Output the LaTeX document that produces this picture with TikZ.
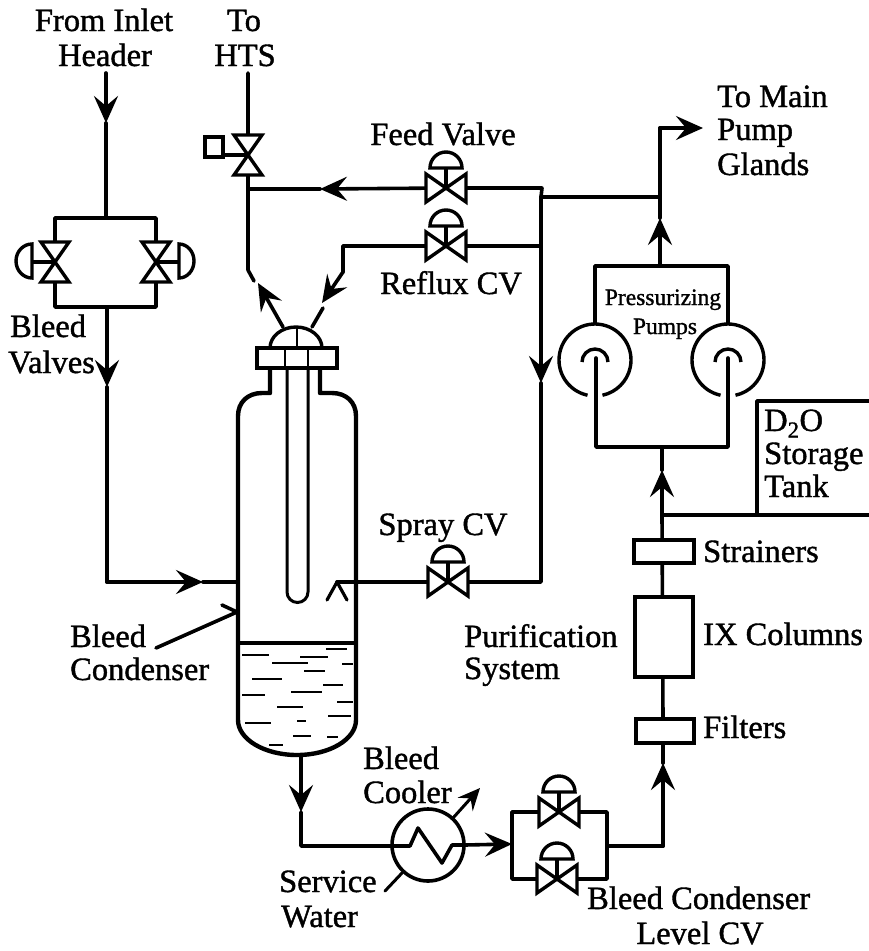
\documentclass[tikz,border=0pt]{standalone}
\usepackage{fontspec}
\setmainfont{Liberation Serif}[FakeBold=1.2]
\usetikzlibrary{arrows.meta, calc}

\tikzset{
  pipe/.style={line width=3.6pt, line join=round, line cap=round},
  flowtip/.style={-{Stealth[length=27pt, width=24pt, inset=10pt]}},
  smalltip/.style={-{Stealth[length=22pt, width=20pt, inset=8pt]}},
  thinline/.style={line width=2.6pt},
  lbl/.style={font=\fontsize{32.5}{36}\selectfont, inner sep=0pt},
  smalllbl/.style={font=\fontsize{23.5}{28}\selectfont, inner sep=0pt},
  unitbox/.style={line width=4pt, fill=white},
  pics/hvalve/.style={code={
    \draw[thinline, line width=3.4pt, fill=white] (-20,-14) -- (20,14) -- (20,-14) -- (-20,14) -- cycle;
    \draw[thinline, line width=3.4pt] (0,0) -- (0,-20);
    \draw[thinline, line width=3.4pt, fill=white] (-16,-20) arc[start angle=180, end angle=360, x radius=16, y radius=16] -- cycle;
  }},
  pics/vvalve/.style={code={
    \draw[thinline, line width=3.4pt, fill=white] (-14,-20) -- (14,-20) -- (-14,20) -- (14,20) -- cycle;
  }},
  pics/pumpcase/.style={code={
    \draw[thinline, line width=3.4pt] (0,0) ++(102:36) arc[start angle=102, end angle=438, radius=36];
    \draw[thinline, line width=3.4pt] (-13,2) arc[start angle=180, end angle=360, radius=13];
  }}
}

\begin{document}
\begin{tikzpicture}[x=1pt, y=-1pt]
  \useasboundingbox (0,0) rectangle (869,951);

  % Valves, pumps and junctions
  \coordinate (htsValve) at (248,155);
  \coordinate (bleedValveA) at (55,262);
  \coordinate (bleedValveB) at (156,262);
  \coordinate (feedValve) at (446,188);
  \coordinate (refluxValve) at (446,246);
  \coordinate (sprayValve) at (448,582);
  \coordinate (levelValveA) at (559,812);
  \coordinate (levelValveB) at (557,879);
  \coordinate (pumpA) at (595,360);
  \coordinate (pumpB) at (728,360);
  \coordinate (cooler) at (428,845);
  \coordinate (bleedTop) at (106,218);
  \coordinate (bleedBot) at (107,307);
  \coordinate (feedJoin) at (541,197);
  \coordinate (glandJoin) at (660,197);
  \coordinate (levelIn) at (512,844);
  \coordinate (levelOut) at (607,846);
  \coordinate (tankJoin) at (662,515);

  % Inlet and bleed valve loop
  \coordinate (inletTop) at (106,73);
  \coordinate (inletTip) at (106,123);
  \draw[pipe, flowtip] (inletTop) -- (inletTip);
  \draw[pipe] (inletTip) -- (bleedTop);
  \draw[pipe] (bleedTop) -| (bleedValveB) |- (bleedBot) -| (bleedValveA) |- (bleedTop);
  \coordinate (bleedTip) at (107,387);
  \coordinate (condCorner) at (107,582);
  \coordinate (condTip) at (203,582);
  \coordinate (condWall) at (238,582);
  \draw[pipe, flowtip] (bleedBot) -- (bleedTip);
  \draw[pipe] (bleedTip) -- (condCorner);
  \draw[pipe, flowtip] (condCorner) -- (condTip);
  \draw[pipe] (condTip) -- (condWall);

  % To HTS and the two lines into the top of the condenser
  \coordinate (htsTop) at (248,73);
  \coordinate (htsBend) at (248,270);
  \coordinate (htsBreak) at (254,281);
  \coordinate (feedTee) at (248,189);
  \coordinate (feedTip) at (320,189);
  \draw[pipe] (htsTop) -- (htsValve) -- (htsBend) -- (htsBreak);
  \draw[pipe, flowtip] (feedValve) -- (feedTip);
  \draw[pipe] (feedTip) -- (feedTee);
  \draw[pipe] (feedValve) -- ++(96,0) -- (feedJoin);
  \draw[pipe] (feedJoin) -- (glandJoin);
  \coordinate (refluxCorner) at (343,247);
  \coordinate (refluxBend) at (343,272);
  \coordinate (refluxTip) at (322,303);
  \draw[pipe] (feedJoin |- refluxValve) -- (refluxValve) -- (refluxValve -| refluxCorner) -- (refluxBend);
  \draw[pipe, flowtip] (refluxBend) -- (refluxTip);
  \coordinate (nozzleA) at (283,327);
  \coordinate (nozzleATip) at (258,283);
  \coordinate (nozzleB) at (312,327);
  \coordinate (nozzleBEnd) at (323,308);
  \draw[pipe, flowtip] (nozzleA) -- (nozzleATip);
  \draw[pipe] (nozzleB) -- (nozzleBEnd);

  % Spray line
  \coordinate (sprayDownTip) at (541,383);
  \coordinate (sprayCorner) at (541,582);
  \coordinate (sprayEnd) at (337,582);
  \draw[pipe, flowtip] (feedJoin) -- (sprayDownTip);
  \draw[pipe] (sprayDownTip) -- (sprayCorner) -- (sprayValve) -- (sprayEnd);
  \draw[pipe, line width=3.2pt] (327,600) -- (sprayEnd) -- (347,600);

  % Condenser vessel
  \draw[pipe, line width=4.4pt, line cap=butt] (270,368) -- (270,393) -- (262,393)
    .. controls (248,393) and (238,402) .. (238,416) -- (238,720)
    arc[start angle=180, end angle=0, x radius=59, y radius=35]
    -- (356,416) .. controls (356,402) and (346,393) .. (332,393) -- (320,393) -- (320,368);
  \draw[thinline, line width=3pt] (287,348) -- (287,592)
    arc[start angle=180, end angle=0, radius=10.5] -- (308,348);
  \draw[unitbox] (257,348) rectangle (337,368);
  \draw[thinline] (285,348) -- (285,368) (308,348) -- (308,368);
  \draw[pipe, line width=3.4pt] (270,348) arc[start angle=180, end angle=360, x radius=26, y radius=21];
  \draw[thinline] (297,327) -- (297,348);
  \draw[pipe] (238,643) -- (356,643);
  \draw[pipe] (156,648) -- (237,612) -- (222,605);

  % Liquid in the condenser
  \foreach \xa/\xb/\ya in {242/269/655, 272/308/663, 300/328/657, 326/347/649, 342/353/664,
      304/325/671, 252/282/679, 323/343/685, 291/322/692, 242/265/695, 337/353/702,
      277/303/707, 328/351/716, 245/271/723, 297/306/721, 293/311/736, 327/338/737, 269/283/745}
    \draw[line width=2.6pt] (\xa,\ya) -- (\xb,\ya);

  % Pressurizing pumps
  \coordinate (pumpTip) at (660,218);
  \coordinate (pumpHead) at (660,266);
  \coordinate (glandCorner) at (660,128);
  \coordinate (glandTip) at (703,128);
  \coordinate (pumpFoot) at (662,447);
  \draw[pipe, flowtip] (pumpHead) -- (pumpTip);
  \draw[pipe] (pumpTip) -- (glandCorner);
  \draw[pipe, flowtip] (glandCorner) -- (glandTip);
  \draw[pipe] (pumpA) ++(0,-37) |- (pumpHead) -| ($(pumpB)+(0,-37)$);
  \draw[pipe] (pumpA) ++(1,-2) |- (pumpFoot) -| ($(pumpB)+(0,-2)$);
  \pic at (pumpA) {pumpcase};
  \pic at (pumpB) {pumpcase};

  % Purification line
  \coordinate (columnTip) at (662,470);
  \coordinate (levelCorner) at (663,846);
  \coordinate (filterTip) at (663,763);
  \draw[pipe, flowtip] (tankJoin) -- (columnTip);
  \draw[pipe] (columnTip) -- (pumpFoot);
  \draw[pipe] (tankJoin) -- (663,719);
  \node[draw, unitbox, minimum width=60pt, minimum height=23pt, inner sep=0pt] (strainerBox) at (664,551.5) {};
  \node[draw, unitbox, minimum width=58pt, minimum height=80pt, inner sep=0pt] (columnBox) at (664,637) {};
  \node[draw, unitbox, minimum width=58pt, minimum height=24pt, inner sep=0pt] (filterBox) at (665,731) {};
  \draw[pipe] (levelOut) -- (levelCorner);
  \draw[pipe, flowtip] (levelCorner) -- (filterTip);
  \draw[pipe] (filterTip) -- (filterBox.south -| filterTip);

  % Storage tank
  \coordinate (tankEndA) at (869,401);
  \coordinate (tankCorner) at (757,401);
  \coordinate (tankEndB) at (869,515);
  \draw[pipe, line cap=butt] (tankEndA) -- (tankCorner) -- (tankCorner |- tankJoin);
  \draw[pipe, line cap=butt] (tankJoin) -- (tankEndB);

  % Cooler and level valve loop
  \coordinate (condOut) at (301,755);
  \coordinate (coolTip) at (301,812);
  \coordinate (coolCorner) at (301,846);
  \draw[pipe, flowtip] (condOut) -- (coolTip);
  \draw[pipe] (coolTip) -- (coolCorner) -- (410,846) -- (418,828) -- (442,863) -- (452,845) -- (465,845);
  \draw[pipe, flowtip] (465,845) -- (levelIn);
  \draw[pipe, line width=3.6pt] (cooler) circle[radius=36];
  \draw[pipe] (levelOut) |- (levelValveA) -| (levelIn);
  \draw[pipe] (levelIn) |- (levelValveB) -| (levelOut);
  \draw[pipe, line width=3pt, smalltip] (453,818) -- (480,788);
  \draw[pipe, line width=3pt] (385,891) -- (402,873);

  % Valve bodies go on top of the pipes
  \pic at (htsValve) {vvalve};
  \draw[thinline, line width=3.4pt, fill=white] (205,137) rectangle (223,157);
  \draw[thinline, line width=3.4pt] (223,155) -- (htsValve);
  \pic at (bleedValveA) {vvalve};
  \pic at (bleedValveB) {vvalve};
  \draw[thinline, line width=3.4pt] (bleedValveA) -- ++(-23,0);
  \draw[thinline, line width=3.4pt] (32,244) arc[start angle=270, end angle=90, x radius=16, y radius=17] -- cycle;
  \draw[thinline, line width=3.4pt] (bleedValveB) -- ++(23,0);
  \draw[thinline, line width=3.4pt] (179,244) arc[start angle=270, end angle=450, x radius=15, y radius=17] -- cycle;
  \pic at (feedValve) {hvalve};
  \pic at (refluxValve) {hvalve};
  \pic at (sprayValve) {hvalve};
  \pic at (levelValveA) {hvalve};
  \pic at (levelValveB) {hvalve};

  % Labels
  \node[lbl, anchor=base] (inletText) at (104,31) {From Inlet};
  \node[lbl, anchor=base] (headerText) at (105,66) {Header};
  \node[lbl, anchor=base] (toText) at (244,31) {To};
  \node[lbl, anchor=base] (htsText) at (245,66) {HTS};
  \node[lbl, anchor=base west] (bleedText) at (10,337) {Bleed};
  \node[lbl, anchor=base west] (valvesText) at (8,373) {Valves};
  \node[lbl, anchor=base] (feedText) at (443,145) {Feed Valve};
  \node[lbl, anchor=base] (refluxText) at (451,294) {Reflux CV};
  \node[lbl, anchor=base] (sprayText) at (443,535) {Spray CV};
  \node[lbl, anchor=base west] (mainText) at (717,107) {To Main};
  \node[lbl, anchor=base west] (pumpText) at (717,140) {Pump};
  \node[lbl, anchor=base west] (glandsText) at (717,175) {Glands};
  \node[smalllbl, anchor=base] (pressText) at (663,305) {Pressurizing};
  \node[smalllbl, anchor=base] (pumpsText) at (665,334) {Pumps};
  \node[lbl, anchor=base west] (d2oText) at (764,431) {D\textsubscript{2}O};
  \node[lbl, anchor=base west] (storageText) at (764,464) {Storage};
  \node[lbl, anchor=base west] (tankText) at (764,497) {Tank};
  \node[lbl, anchor=base west] (strainerText) at (703,562) {Strainers};
  \node[lbl, anchor=base west] (columnText) at (703,645) {IX Columns};
  \node[lbl, anchor=base west] (filterText) at (703,738) {Filters};
  \node[lbl, anchor=base west] (purifText) at (464,647) {Purification};
  \node[lbl, anchor=base west] (systemText) at (464,679) {System};
  \node[lbl, anchor=base west] (condBleedText) at (70,647) {Bleed};
  \node[lbl, anchor=base west] (condText) at (70,680) {Condenser};
  \node[lbl, anchor=base west] (coolBleedText) at (363,769) {Bleed};
  \node[lbl, anchor=base west] (coolText) at (363,803) {Cooler};
  \node[lbl, anchor=base west] (serviceText) at (279,892) {Service};
  \node[lbl, anchor=base west] (waterText) at (281,927) {Water};
  \node[lbl, anchor=base west] (levelBleedText) at (587,909) {Bleed Condenser};
  \node[lbl, anchor=base] (levelText) at (700,944) {Level CV};
\end{tikzpicture}
\end{document}
